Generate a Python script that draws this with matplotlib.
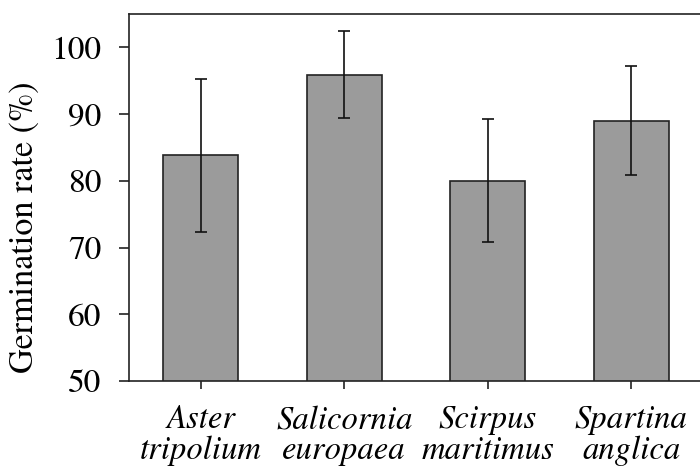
import matplotlib
matplotlib.use("Agg")
import matplotlib.pyplot as plt

species = ["Aster\ntripolium", "Salicornia\neuropaea", "Scirpus\nmaritimus", "Spartina\nanglica"]
germination = [83.8, 95.9, 80.0, 89.0]
error = [11.4, 6.5, 9.2, 8.2]
yticks = [50, 60, 70, 80, 90, 100]

serif = ["TeX Gyre Termes", "Liberation Serif", "DejaVu Serif"]
plt.rcParams["font.family"] = serif

fig = plt.figure(figsize=(7.0, 4.71), dpi=100)
ax = fig.add_axes([129 / 700, 1 - 381 / 471, 574 / 700, (381 - 14) / 471])

x = list(range(len(species)))
ax.bar(x, germination, width=0.52, color="#9b9b9b", edgecolor="#222222",
       linewidth=1.2, zorder=2)
ax.errorbar(x, germination, yerr=error, fmt="none", ecolor="#111111",
            elinewidth=1.2, capsize=4.5, capthick=1.2, zorder=3)

ax.set_xlim(-0.5, 3.5)
ax.set_ylim(50, 105)
ax.set_yticks(yticks)
ax.set_yticklabels([str(v) for v in yticks], fontsize=24, family=serif)
ax.set_xticks(x)
ax.set_xticklabels(species, fontsize=23.5, fontstyle="italic", linespacing=1.0,
                   family=serif)
ax.set_ylabel("Germination rate (%)", fontsize=24.5, family=serif)
# label sits centred over the 50-100 tick span rather than the full axis
ax.yaxis.set_label_coords(-0.153, 0.42)

for s in ax.spines.values():
    s.set_linewidth(1.2)
    s.set_color("#222222")
ax.tick_params(axis="y", direction="out", length=7, width=1.2, pad=13, colors="#222222", labelcolor="black")
ax.tick_params(axis="x", direction="out", length=6, width=1.2, pad=11, colors="#222222", labelcolor="black")

fig.savefig("out.png", dpi=100)
